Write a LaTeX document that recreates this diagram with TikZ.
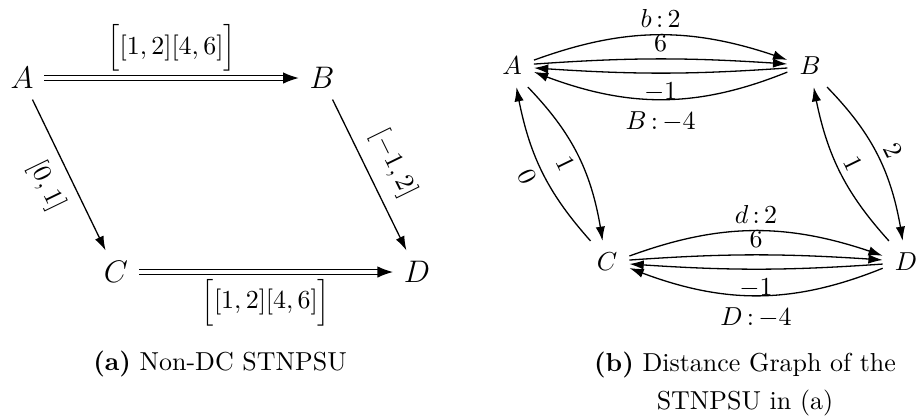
\documentclass[tikz,border=0pt]{standalone}
\usetikzlibrary{arrows.meta,bending}
\begin{document}
\begin{tikzpicture}[x=0.385pt,y=-0.385pt,
  lnode/.style={font=\large, inner sep=4pt},
  rnode/.style={inner sep=4.5pt},
  dbl/.style={double, double distance=1.3pt, line width=0.45pt, -{Latex[length=6pt,width=4.4pt]}},
  arr/.style={line width=0.5pt, -{Latex[length=5.5pt,width=3.6pt]}},
  lbl/.style={inner sep=2.5pt},
  captxt/.style={inner sep=0pt, align=center}
]
\useasboundingbox (0,0) rectangle (923,415);

% ---------- (a) ----------
\node[lnode] (A) at (22,78) {$A$};
\node[lnode] (B) at (322,78) {$B$};
\node[lnode] (C) at (116,272) {$C$};
\node[lnode] (D) at (417,272) {$D$};

\draw[dbl] (A) -- (B) node[lbl, midway, above=0pt] {$\Big[[1,2][4,6]\Big]$};
\draw[dbl] (C) -- (D) node[lbl, midway, below=0pt] {$\Big[[1,2][4,6]\Big]$};
\draw[arr] (A) -- (C) node[lbl, midway, sloped, below=2pt] {$[0,1]$};
\draw[arr] (B) -- (D) node[lbl, midway, sloped, above=2.5pt] {$[-1,2]$};

\node[captxt] (capa) at (220,364) {\textbf{(a)} Non-DC STNPSU};

% ---------- (b) ----------
\node[rnode] (A2) at (512,66) {$A$};
\node[rnode] (B2) at (810,66) {$B$};
\node[rnode] (C2) at (607,262) {$C$};
\node[rnode] (D2) at (906,262) {$D$};

\draw[arr] (A2.15) to[bend left=20] node[lbl, midway, above] {$b\,{:}\,2$} (B2.165);
\draw[arr] (A2.5) to[bend left=4] node[lbl, midway, above] {$6$} (B2.175);
\draw[arr] (B2.185) to[bend left=4] node[lbl, midway, below=1pt] {$-1$} (A2.-5);
\draw[arr] (B2.195) to[bend left=22] node[lbl, midway, below=2pt] {$B\,{:}\,{-4}$} (A2.-15);

\draw[arr] (C2.15) to[bend left=20] node[lbl, midway, above] {$d\,{:}\,2$} (D2.165);
\draw[arr] (C2.5) to[bend left=4] node[lbl, midway, above] {$6$} (D2.175);
\draw[arr] (D2.185) to[bend left=4] node[lbl, midway, below=1pt] {$-1$} (C2.-5);
\draw[arr] (D2.195) to[bend left=22] node[lbl, midway, below=2pt] {$D\,{:}\,{-4}$} (C2.-15);

\draw[arr] (A2.-53) to[bend left=18] node[lbl, midway, sloped, below] {$1$} (C2.102);
\draw[arr] (C2.128) to[bend left=16] node[lbl, midway, sloped, below] {$0$} (A2.-78);
\draw[arr] (B2.-51) to[bend left=18] node[lbl, midway, sloped, above] {$2$} (D2.99);
\draw[arr] (D2.129) to[bend left=16] node[lbl, midway, sloped, above] {$1$} (B2.-80);

\node[captxt] (capb) at (745,384) {\textbf{(b)} Distance Graph of the\\[3pt] STNPSU in (a)};
\end{tikzpicture}
\end{document}
